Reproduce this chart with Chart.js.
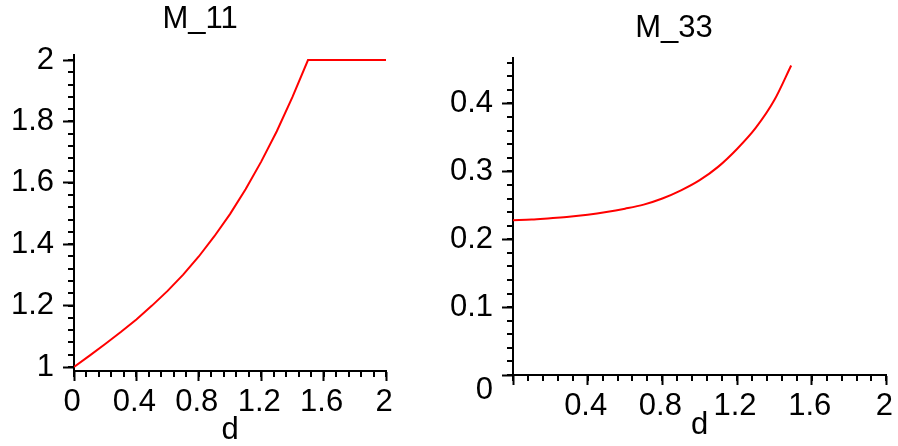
<!DOCTYPE html>
<html>
<head>
<meta charset="utf-8">
<script src="https://cdn.jsdelivr.net/npm/chart.js@4.4.0/dist/chart.umd.min.js"></script>
<style>
  html, body { margin: 0; padding: 0; background: #fff; }
  body { width: 898px; height: 446px; position: relative; overflow: hidden; }
  canvas { position: absolute; top: 0; }
  #c11 { left: 0; }
  #c33 { left: 440px; }
</style>
</head>
<body>
<canvas id="c11" width="400" height="446"></canvas>
<canvas id="c33" width="458" height="446"></canvas>
<script>
// values
const d11 = [0, 0.1, 0.2, 0.3, 0.4, 0.5, 0.6, 0.7, 0.8, 0.9, 1.0, 1.1, 1.2, 1.3, 1.4, 1.5, 2.0];
const m11 = [1.000, 1.037, 1.075, 1.114, 1.155, 1.200, 1.248, 1.301, 1.360, 1.426, 1.498, 1.579, 1.669, 1.768, 1.879, 2.000, 2.000];

const d33 = [0, 0.1, 0.2, 0.3, 0.4, 0.5, 0.6, 0.7, 0.8, 0.9, 1.0, 1.1, 1.2, 1.3, 1.4, 1.49];
const m33 = [0.228, 0.229, 0.231, 0.233, 0.236, 0.240, 0.245, 0.251, 0.260, 0.272, 0.287, 0.307, 0.333, 0.364, 0.405, 0.456];

const xTicks = [0, 0.4, 0.8, 1.2, 1.6, 2];
const xLabels11 = ['0', '0.4', '0.8', '1.2', '1.6', '2'];
const xLabels33 = ['', '0.4', '0.8', '1.2', '1.6', '2'];
const yTicks11 = [1, 1.2, 1.4, 1.6, 1.8, 2];
const yLabels11 = ['1', '1.2', '1.4', '1.6', '1.8', '2'];
const yTicks33 = [0, 0.1, 0.2, 0.3, 0.4];
const yLabels33 = ['0', '0.1', '0.2', '0.3', '0.4'];

const FONT = 'Liberation Sans';

// short ticks between the labelled ones, plus the panel title
const decor = {
  id: 'decor',
  afterDraw(chart, args, o) {
    const {ctx, chartArea} = chart;
    const x = chart.scales.x, y = chart.scales.y;
    ctx.save();
    ctx.strokeStyle = '#000';
    ctx.lineWidth = 2;
    ctx.beginPath();
    const nx = Math.round((o.xTo - o.xFrom) / o.xStep);
    for (let i = 0; i <= nx; i++) {
      const px = Math.round(x.getPixelForValue(o.xFrom + i * o.xStep));
      ctx.moveTo(px, chartArea.bottom);
      ctx.lineTo(px, chartArea.bottom + 6);
    }
    const ny = Math.round((o.yTo - o.yFrom) / o.yStep);
    for (let i = 0; i <= ny; i++) {
      const py = Math.round(y.getPixelForValue(o.yFrom + i * o.yStep));
      ctx.moveTo(chartArea.left, py);
      ctx.lineTo(chartArea.left - 6, py);
    }
    ctx.stroke();

    ctx.fillStyle = '#000';
    ctx.font = '31px "' + FONT + '"';
    ctx.textAlign = 'center';
    ctx.textBaseline = 'alphabetic';
    ctx.fillText(o.title, o.titleX, o.titleY);
    ctx.restore();
  }
};

function makePlot(id, cfg) {
  return new Chart(document.getElementById(id), {
    type: 'line',
    data: {
      datasets: [{
        data: cfg.xs.map((d, i) => ({x: d, y: cfg.ys[i]})),
        borderColor: '#ff0000',
        borderWidth: 2,
        pointRadius: 0,
        tension: cfg.smooth ? 0.4 : 0,
        cubicInterpolationMode: cfg.smooth ? 'monotone' : 'default',
        fill: false
      }]
    },
    options: {
      responsive: false,
      animation: false,
      layout: { padding: cfg.padding },
      plugins: {
        legend: { display: false },
        tooltip: { enabled: false },
        title: { display: false },
        decor: cfg.decor
      },
      scales: {
        x: {
          type: 'linear',
          min: 0, max: 2,
          afterBuildTicks: s => { s.ticks = xTicks.map(v => ({value: v})); },
          afterFit: s => { s.height = cfg.xHeight; },
          grid: { drawOnChartArea: false, tickLength: 10, tickWidth: 2, tickColor: '#000' },
          border: { display: true, color: '#000', width: 2 },
          ticks: {
            autoSkip: false, maxRotation: 0, padding: 3, labelOffset: -2,
            color: '#000',
            font: { family: FONT, size: 31 },
            callback: (v, i) => cfg.xLabels[i]
          },
          title: {
            display: true, text: 'd', color: '#000',
            font: { family: FONT, size: 31, lineHeight: 1 },
            padding: { top: 0, bottom: cfg.dPad }
          }
        },
        y: {
          min: cfg.yMin, max: cfg.yMax,
          afterBuildTicks: s => { s.ticks = cfg.yTicks.map(v => ({value: v})); },
          afterFit: s => { s.width = cfg.yWidth; },
          grid: { drawOnChartArea: false, tickLength: 11, tickWidth: 2, tickColor: '#000' },
          border: { display: true, color: '#000', width: 2 },
          ticks: {
            autoSkip: false, padding: 9,
            color: '#000',
            font: { family: FONT, size: 31, lineHeight: 1 },
            callback: (v, i) => cfg.yLabelFn(cfg.yLabels[i])
          }
        }
      }
    },
    plugins: [decor]
  });
}

makePlot('c11', {
  xs: d11, ys: m11, smooth: false,
  xLabels: xLabels11, yTicks: yTicks11, yLabels: yLabels11,
  yLabelFn: s => s,
  yMin: 0.987, yMax: 2.0163,
  padding: { left: 0, right: 14, top: 55, bottom: 0 },
  xHeight: 75, yWidth: 74, dPad: 0,
  decor: { title: 'M_11', titleX: 200, titleY: 28,
           xFrom: 0, xTo: 2, xStep: 0.08, yFrom: 1, yTo: 2, yStep: 0.04 }
});

makePlot('c33', {
  xs: d33, ys: m33, smooth: true,
  xLabels: xLabels33, yTicks: yTicks33, yLabels: yLabels33,
  yLabelFn: s => (s === '0' ? ['', '0'] : s),
  yMin: 0, yMax: 0.467,
  padding: { left: 0, right: 10, top: 58, bottom: 0 },
  xHeight: 71, yWidth: 73, dPad: 5,
  decor: { title: 'M_33', titleX: 234, titleY: 37,
           xFrom: 0, xTo: 2, xStep: 0.08, yFrom: 0, yTo: 0.46, yStep: 0.02 }
});
</script>
</body>
</html>
